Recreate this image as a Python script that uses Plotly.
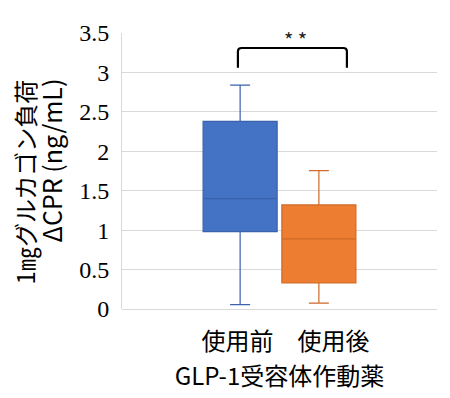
import plotly.graph_objects as go

category = ["GLP-1受容体作動薬"]
series_names = ["使用前", "使用後"]
q1_vals = [0.98, 0.33]
median_vals = [1.40, 0.89]
q3_vals = [2.38, 1.32]
lower_vals = [0.055, 0.075]
upper_vals = [2.84, 1.755]
fill_colors = ["#4472C4", "#ED7D31"]
line_colors = ["#3A62AC", "#CF6A28"]

y_ticks = [0, 0.5, 1, 1.5, 2, 2.5, 3, 3.5]
y_ticktext = ["0", "0.5", "1", "1.5", "2", "2.5", "3", "3.5"]
y_title_lines = ["1㎎グルカゴン負荷", "ΔCPR (ng/mL)"]
x_line1 = "使用前　使用後"

jp = "Noto Sans CJK JP"
serif = "Liberation Serif, Times New Roman, serif"

fig = go.Figure()
for i, name in enumerate(series_names):
    fig.add_trace(go.Box(
        name=name,
        x=category,
        q1=[q1_vals[i]], median=[median_vals[i]], q3=[q3_vals[i]],
        lowerfence=[lower_vals[i]], upperfence=[upper_vals[i]],
        fillcolor=fill_colors[i],
        line=dict(color=line_colors[i], width=1.2),
        whiskerwidth=0.27,
        boxpoints=False,
        hoverinfo="skip",
    ))

# significance bracket
fig.add_shape(type="path",
              path="M 0.368,3.06 L 0.368,3.27 Q 0.368,3.31 0.38,3.31 L 0.702,3.31 Q 0.714,3.31 0.714,3.27 L 0.714,3.06",
              xref="paper", yref="y", line=dict(color="black", width=2.2))
fig.add_annotation(text="* *", x=0.55, y=3.42, xref="paper", yref="y",
                   showarrow=False, font=dict(family=jp, size=20, color="#222"))

# y-axis title as two rotated lines
fig.add_annotation(text=y_title_lines[0], x=-0.31, y=0.46, xref="paper", yref="paper",
                   textangle=-90, showarrow=False, xanchor="center", yanchor="middle",
                   font=dict(family=jp, size=24, color="black"))
fig.add_annotation(text=y_title_lines[1], x=-0.224, y=0.54, xref="paper", yref="paper",
                   textangle=-90, showarrow=False, xanchor="center", yanchor="middle",
                   font=dict(family=jp, size=25, color="black"))

fig.update_layout(
    width=450, height=398,
    margin=dict(l=114, r=21, t=25, b=97),
    paper_bgcolor="white", plot_bgcolor="white",
    showlegend=False,
    boxmode="group", boxgap=0.5, boxgroupgap=0.06,
    xaxis=dict(
        tickvals=category,
        ticktext=[x_line1],
        tickfont=dict(family=jp, size=24, color="black"),
        showgrid=False, showline=False, zeroline=False,
        ticks="", ticklabelstandoff=16, ticklabelshift=6,
        title=dict(text=category[0], font=dict(family=jp, size=24, color="black"), standoff=0),
    ),
    yaxis=dict(
        range=[0, 3.5],
        tickvals=y_ticks, ticktext=y_ticktext,
        tickfont=dict(family=serif, size=24, color="black"),
        showgrid=True, gridcolor="#d9d9d9", gridwidth=1,
        showline=True, linecolor="#d9d9d9", linewidth=1,
        zeroline=True, zerolinecolor="#d9d9d9", zerolinewidth=1,
        ticks="", ticklabelstandoff=7,
    ),
)

fig.write_html("out.html")
